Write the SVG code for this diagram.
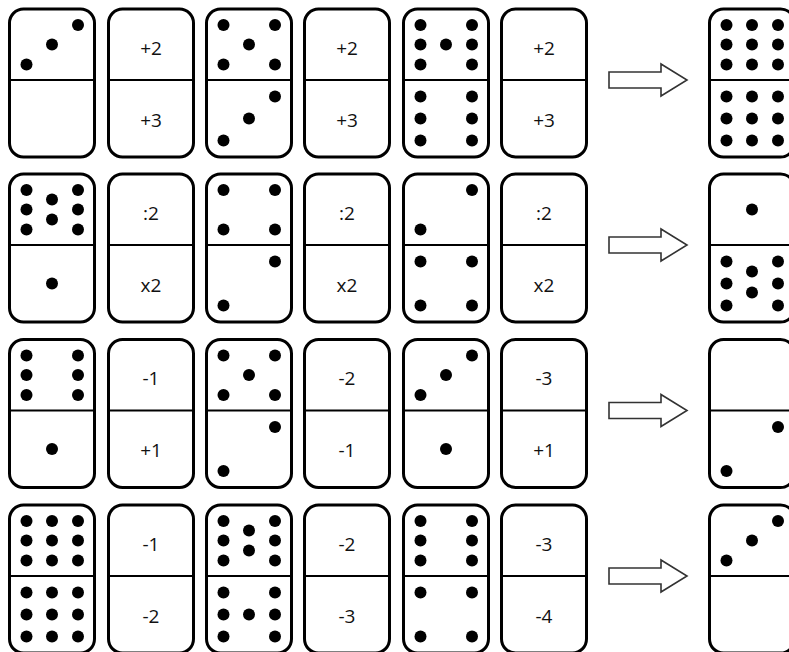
<svg xmlns="http://www.w3.org/2000/svg" xmlns:xlink="http://www.w3.org/1999/xlink" width="789" height="652" viewBox="0 0 789 652">
<style>
.f{fill:#fff;stroke:#000;stroke-width:3}
.d{stroke:#000;stroke-width:2}
.p{fill:#000}
.t{font-family:"Open Sans","Liberation Sans",sans-serif;font-size:19px;text-anchor:middle;fill:#111}
.a{fill:#fff;stroke:#333;stroke-width:1.6;stroke-linejoin:miter}
</style>
<defs>
<g id="frame"><rect class="f" x="1.5" y="1.5" width="85" height="148" rx="14"/><line class="d" x1="1.5" y1="72.5" x2="86.5" y2="72.5"/></g>
</defs>
<rect width="789" height="652" fill="#fff"/>

<!-- Row 1 -->
<g id="r1d1" transform="translate(8,7.5)"><use xlink:href="#frame"/>
<circle class="p" cx="18.5" cy="57" r="6"/><circle class="p" cx="44" cy="37" r="6"/><circle class="p" cx="70" cy="17.5" r="6"/></g>
<g id="r1d2" transform="translate(107,7.5)"><use xlink:href="#frame"/><text class="t" x="44" y="47">+2</text><text class="t" x="44" y="119">+3</text></g>
<g id="r1d3" transform="translate(205,7.5)"><use xlink:href="#frame"/>
<circle class="p" cx="18.5" cy="17.5" r="6"/><circle class="p" cx="70" cy="17.5" r="6"/><circle class="p" cx="44" cy="37" r="6"/><circle class="p" cx="18.5" cy="57" r="6"/><circle class="p" cx="70" cy="57" r="6"/>
<circle class="p" cx="70" cy="89" r="6"/><circle class="p" cx="44" cy="111" r="6"/><circle class="p" cx="18.5" cy="133" r="6"/></g>
<g id="r1d4" transform="translate(303,7.5)"><use xlink:href="#frame"/><text class="t" x="44" y="47">+2</text><text class="t" x="44" y="119">+3</text></g>
<g id="r1d5" transform="translate(402,7.5)"><use xlink:href="#frame"/>
<circle class="p" cx="18.5" cy="17.5" r="6"/><circle class="p" cx="18.5" cy="37" r="6"/><circle class="p" cx="18.5" cy="57" r="6"/><circle class="p" cx="70" cy="17.5" r="6"/><circle class="p" cx="70" cy="37" r="6"/><circle class="p" cx="70" cy="57" r="6"/><circle class="p" cx="44" cy="37" r="6"/>
<circle class="p" cx="18.5" cy="89" r="6"/><circle class="p" cx="18.5" cy="111" r="6"/><circle class="p" cx="18.5" cy="133" r="6"/><circle class="p" cx="70" cy="89" r="6"/><circle class="p" cx="70" cy="111" r="6"/><circle class="p" cx="70" cy="133" r="6"/></g>
<g id="r1d6" transform="translate(500,7.5)"><use xlink:href="#frame"/><text class="t" x="44" y="47">+2</text><text class="t" x="44" y="119">+3</text></g>
<g id="r1res" transform="translate(708,7.5)"><use xlink:href="#frame"/>
<circle class="p" cx="18.5" cy="17.5" r="6"/><circle class="p" cx="44" cy="17.5" r="6"/><circle class="p" cx="70" cy="17.5" r="6"/><circle class="p" cx="18.5" cy="37" r="6"/><circle class="p" cx="44" cy="37" r="6"/><circle class="p" cx="70" cy="37" r="6"/><circle class="p" cx="18.5" cy="57" r="6"/><circle class="p" cx="44" cy="57" r="6"/><circle class="p" cx="70" cy="57" r="6"/>
<circle class="p" cx="18.5" cy="89" r="6"/><circle class="p" cx="44" cy="89" r="6"/><circle class="p" cx="70" cy="89" r="6"/><circle class="p" cx="18.5" cy="111" r="6"/><circle class="p" cx="44" cy="111" r="6"/><circle class="p" cx="70" cy="111" r="6"/><circle class="p" cx="18.5" cy="133" r="6"/><circle class="p" cx="44" cy="133" r="6"/><circle class="p" cx="70" cy="133" r="6"/></g>

<!-- Row 2 -->
<g id="r2d1" transform="translate(8,172.5)"><use xlink:href="#frame"/>
<circle class="p" cx="18.5" cy="17.5" r="6"/><circle class="p" cx="18.5" cy="37" r="6"/><circle class="p" cx="18.5" cy="57" r="6"/><circle class="p" cx="70" cy="17.5" r="6"/><circle class="p" cx="70" cy="37" r="6"/><circle class="p" cx="70" cy="57" r="6"/><circle class="p" cx="44" cy="27" r="6"/><circle class="p" cx="44" cy="47" r="6"/>
<circle class="p" cx="44" cy="111" r="6"/></g>
<g id="r2d2" transform="translate(107,172.5)"><use xlink:href="#frame"/><text class="t" x="44" y="47">:2</text><text class="t" x="44" y="119">x2</text></g>
<g id="r2d3" transform="translate(205,172.5)"><use xlink:href="#frame"/>
<circle class="p" cx="18.5" cy="17.5" r="6"/><circle class="p" cx="70" cy="17.5" r="6"/><circle class="p" cx="18.5" cy="57" r="6"/><circle class="p" cx="70" cy="57" r="6"/>
<circle class="p" cx="70" cy="89" r="6"/><circle class="p" cx="18.5" cy="133" r="6"/></g>
<g id="r2d4" transform="translate(303,172.5)"><use xlink:href="#frame"/><text class="t" x="44" y="47">:2</text><text class="t" x="44" y="119">x2</text></g>
<g id="r2d5" transform="translate(402,172.5)"><use xlink:href="#frame"/>
<circle class="p" cx="70" cy="17.5" r="6"/><circle class="p" cx="18.5" cy="57" r="6"/>
<circle class="p" cx="18.5" cy="89" r="6"/><circle class="p" cx="70" cy="89" r="6"/><circle class="p" cx="18.5" cy="133" r="6"/><circle class="p" cx="70" cy="133" r="6"/></g>
<g id="r2d6" transform="translate(500,172.5)"><use xlink:href="#frame"/><text class="t" x="44" y="47">:2</text><text class="t" x="44" y="119">x2</text></g>
<g id="r2res" transform="translate(708,172.5)"><use xlink:href="#frame"/>
<circle class="p" cx="44" cy="37" r="6"/>
<circle class="p" cx="18.5" cy="89" r="6"/><circle class="p" cx="18.5" cy="111" r="6"/><circle class="p" cx="18.5" cy="133" r="6"/><circle class="p" cx="70" cy="89" r="6"/><circle class="p" cx="70" cy="111" r="6"/><circle class="p" cx="70" cy="133" r="6"/><circle class="p" cx="44" cy="99" r="6"/><circle class="p" cx="44" cy="120" r="6"/></g>

<!-- Row 3 -->
<g id="r3d1" transform="translate(8,338)"><use xlink:href="#frame"/>
<circle class="p" cx="18.5" cy="17.5" r="6"/><circle class="p" cx="18.5" cy="37" r="6"/><circle class="p" cx="18.5" cy="57" r="6"/><circle class="p" cx="70" cy="17.5" r="6"/><circle class="p" cx="70" cy="37" r="6"/><circle class="p" cx="70" cy="57" r="6"/>
<circle class="p" cx="44" cy="111" r="6"/></g>
<g id="r3d2" transform="translate(107,338)"><use xlink:href="#frame"/><text class="t" x="44" y="47">-1</text><text class="t" x="44" y="119">+1</text></g>
<g id="r3d3" transform="translate(205,338)"><use xlink:href="#frame"/>
<circle class="p" cx="18.5" cy="17.5" r="6"/><circle class="p" cx="70" cy="17.5" r="6"/><circle class="p" cx="44" cy="37" r="6"/><circle class="p" cx="18.5" cy="57" r="6"/><circle class="p" cx="70" cy="57" r="6"/>
<circle class="p" cx="70" cy="89" r="6"/><circle class="p" cx="18.5" cy="133" r="6"/></g>
<g id="r3d4" transform="translate(303,338)"><use xlink:href="#frame"/><text class="t" x="44" y="47">-2</text><text class="t" x="44" y="119">-1</text></g>
<g id="r3d5" transform="translate(402,338)"><use xlink:href="#frame"/>
<circle class="p" cx="18.5" cy="57" r="6"/><circle class="p" cx="44" cy="37" r="6"/><circle class="p" cx="70" cy="17.5" r="6"/>
<circle class="p" cx="44" cy="111" r="6"/></g>
<g id="r3d6" transform="translate(500,338)"><use xlink:href="#frame"/><text class="t" x="44" y="47">-3</text><text class="t" x="44" y="119">+1</text></g>
<g id="r3res" transform="translate(708,338)"><use xlink:href="#frame"/>
<circle class="p" cx="70" cy="89" r="6"/><circle class="p" cx="18.5" cy="133" r="6"/></g>

<!-- Row 4 -->
<g id="r4d1" transform="translate(8,503.5)"><use xlink:href="#frame"/>
<circle class="p" cx="18.5" cy="17.5" r="6"/><circle class="p" cx="44" cy="17.5" r="6"/><circle class="p" cx="70" cy="17.5" r="6"/><circle class="p" cx="18.5" cy="37" r="6"/><circle class="p" cx="44" cy="37" r="6"/><circle class="p" cx="70" cy="37" r="6"/><circle class="p" cx="18.5" cy="57" r="6"/><circle class="p" cx="44" cy="57" r="6"/><circle class="p" cx="70" cy="57" r="6"/>
<circle class="p" cx="18.5" cy="89" r="6"/><circle class="p" cx="44" cy="89" r="6"/><circle class="p" cx="70" cy="89" r="6"/><circle class="p" cx="18.5" cy="111" r="6"/><circle class="p" cx="44" cy="111" r="6"/><circle class="p" cx="70" cy="111" r="6"/><circle class="p" cx="18.5" cy="133" r="6"/><circle class="p" cx="44" cy="133" r="6"/><circle class="p" cx="70" cy="133" r="6"/></g>
<g id="r4d2" transform="translate(107,503.5)"><use xlink:href="#frame"/><text class="t" x="44" y="47">-1</text><text class="t" x="44" y="119">-2</text></g>
<g id="r4d3" transform="translate(205,503.5)"><use xlink:href="#frame"/>
<circle class="p" cx="18.5" cy="17.5" r="6"/><circle class="p" cx="18.5" cy="37" r="6"/><circle class="p" cx="18.5" cy="57" r="6"/><circle class="p" cx="70" cy="17.5" r="6"/><circle class="p" cx="70" cy="37" r="6"/><circle class="p" cx="70" cy="57" r="6"/><circle class="p" cx="44" cy="27" r="6"/><circle class="p" cx="44" cy="47" r="6"/>
<circle class="p" cx="18.5" cy="89" r="6"/><circle class="p" cx="18.5" cy="111" r="6"/><circle class="p" cx="18.5" cy="133" r="6"/><circle class="p" cx="70" cy="89" r="6"/><circle class="p" cx="70" cy="111" r="6"/><circle class="p" cx="70" cy="133" r="6"/><circle class="p" cx="44" cy="111" r="6"/></g>
<g id="r4d4" transform="translate(303,503.5)"><use xlink:href="#frame"/><text class="t" x="44" y="47">-2</text><text class="t" x="44" y="119">-3</text></g>
<g id="r4d5" transform="translate(402,503.5)"><use xlink:href="#frame"/>
<circle class="p" cx="18.5" cy="17.5" r="6"/><circle class="p" cx="18.5" cy="37" r="6"/><circle class="p" cx="18.5" cy="57" r="6"/><circle class="p" cx="70" cy="17.5" r="6"/><circle class="p" cx="70" cy="37" r="6"/><circle class="p" cx="70" cy="57" r="6"/>
<circle class="p" cx="18.5" cy="89" r="6"/><circle class="p" cx="70" cy="89" r="6"/><circle class="p" cx="18.5" cy="133" r="6"/><circle class="p" cx="70" cy="133" r="6"/></g>
<g id="r4d6" transform="translate(500,503.5)"><use xlink:href="#frame"/><text class="t" x="44" y="47">-3</text><text class="t" x="44" y="119">-4</text></g>
<g id="r4res" transform="translate(708,503.5)"><use xlink:href="#frame"/>
<circle class="p" cx="18.5" cy="57" r="6"/><circle class="p" cx="44" cy="37" r="6"/><circle class="p" cx="70" cy="17.5" r="6"/></g>

<!-- Arrows -->
<g id="connectors">
<polygon class="a" points="609,72 661,72 661,64 687,80 661,96 661,88 609,88"/>
<polygon class="a" points="609,237 661,237 661,229 687,245 661,261 661,253 609,253"/>
<polygon class="a" points="609,402.5 661,402.5 661,394.5 687,410.5 661,426.5 661,418.5 609,418.5"/>
<polygon class="a" points="609,568 661,568 661,560 687,576 661,592 661,584 609,584"/>
</g>
</svg>
